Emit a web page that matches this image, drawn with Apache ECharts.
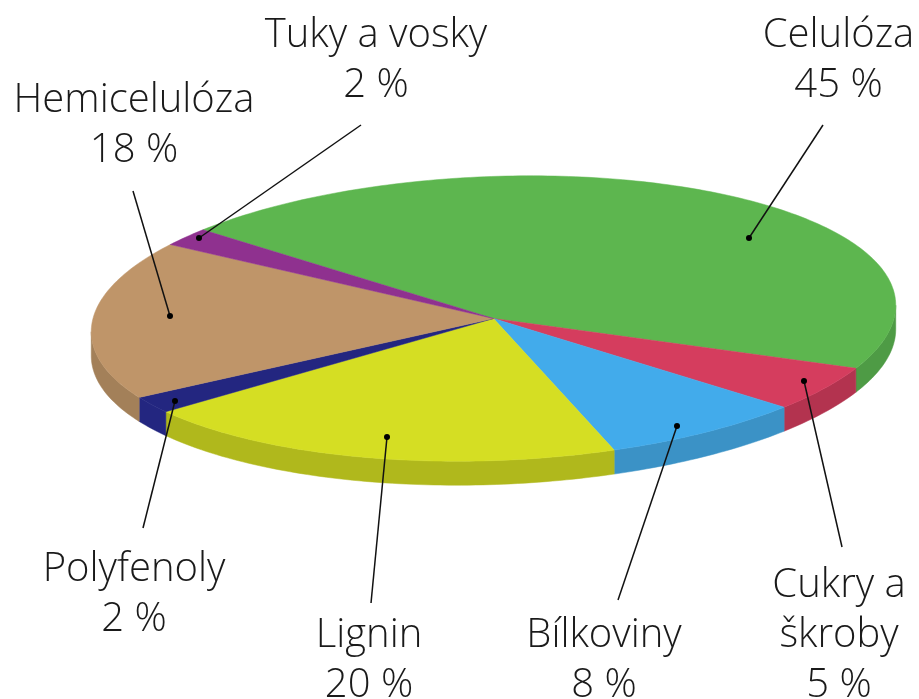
<!DOCTYPE html>
<html>
<head>
<meta charset="utf-8">
<style>html,body{margin:0;padding:0;background:#fff}#c{width:919px;height:699px}</style>
<script src="https://cdn.jsdelivr.net/npm/echarts@6/dist/echarts.min.js"></script>
</head>
<body>
<div id="c"></div>
<script>
// Data
const categories = ['Celulóza', 'Cukry a\nškroby', 'Bílkoviny', 'Lignin', 'Polyfenoly', 'Hemicelulóza', 'Tuky a vosky'];
const percents = [45, 5, 8, 20, 2, 18, 2];

// Styles
const topColors = ['#5DB64F', '#D53D5E', '#42ABEB', '#D5DE23', '#232680', '#BF9569', '#8F318F'];
const sideColors = ['#4E9B45', '#B3334F', '#3B92C6', '#B0B81C', '#232680', '#A38059', '#8F318F'];

// Layout: tilted disc geometry and annotation placement
const CX = 493.5, CY = 318.5, RX = 402.5, RY = 142, DEPTH = 24, START_DEG = 224.5, TILT_DEG = 2.15;
const labelCenterX = [838.5, 839, 604, 369, 134, 134, 376];
const labelTopY = [11, 561, 611, 611, 545, 76, 11];
const leaderFrom = [[823,125],[842,547],[618,600],[371,603],[143,528],[133,191],[361,125]];
const leaderTo = [[749,238],[804,381],[677,426],[387,437],[175,401],[170,316],[199,238]];
const LINE_H = 50, FONT = '"Open Sans", sans-serif', FONT_SIZE = 40;

const total = percents.reduce((a, b) => a + b, 0);
const spans = [];
let acc = START_DEG;
percents.forEach(v => { const s = acc; acc += v / total * 360; spans.push([s, acc]); });

const tilt = TILT_DEG * Math.PI / 180;
const tc = Math.cos(tilt), ts = Math.sin(tilt);
// screen silhouette angle where the rim's horizontal extent peaks
const edgeDeg = Math.atan2(RY * ts, RX * tc) * 180 / Math.PI;

function pt(deg, dy) {
  const r = deg * Math.PI / 180;
  const X = RX * Math.cos(r), Y = RY * Math.sin(r);
  return [CX + X * tc + Y * ts, CY - X * ts + Y * tc + (dy || 0)];
}
function arc(a, b, dy) {
  const out = [], n = Math.max(2, Math.ceil(Math.abs(b - a)));
  for (let i = 0; i <= n; i++) out.push(pt(a + (b - a) * i / n, dy));
  return out;
}
function sideRanges(a, b) {
  const out = [];
  [0, 360, 720].forEach(w => {
    const s = Math.max(a, w + edgeDeg), e = Math.min(b, w + 180 + edgeDeg);
    if (e > s) out.push([s, e]);
  });
  return out;
}
const rows = categories.map((c, i) => [i, percents[i]]);

const option = {
  animation: false,
  backgroundColor: '#fff',
  series: [
    {
      type: 'custom', coordinateSystem: 'none', silent: true, data: rows, z: 1,
      renderItem(params, api) {
        const i = api.value(0);
        const children = sideRanges(spans[i][0], spans[i][1]).map(r => ({
          type: 'polygon',
          shape: { points: arc(r[0], r[1], 0).concat(arc(r[1], r[0], DEPTH)) },
          style: { fill: sideColors[i], stroke: sideColors[i], lineWidth: 0.5 }
        }));
        return { type: 'group', children };
      }
    },
    {
      type: 'custom', coordinateSystem: 'none', silent: true, data: rows, z: 2,
      renderItem(params, api) {
        const i = api.value(0);
        return {
          type: 'polygon',
          shape: { points: [[CX, CY]].concat(arc(spans[i][0], spans[i][1], 0)) },
          style: { fill: topColors[i], stroke: topColors[i], lineWidth: 0.5 }
        };
      }
    },
    {
      type: 'custom', coordinateSystem: 'none', silent: true, data: rows, z: 3,
      renderItem(params, api) {
        const i = api.value(0);
        const from = leaderFrom[i], to = leaderTo[i];
        return {
          type: 'group',
          children: [
            { type: 'line', shape: { x1: from[0], y1: from[1], x2: to[0], y2: to[1] },
              style: { stroke: '#111', lineWidth: 1.5 } },
            { type: 'circle', shape: { cx: to[0], cy: to[1], r: 3 }, style: { fill: '#000' } },
            { type: 'text', x: labelCenterX[i], y: labelTopY[i],
              style: { text: categories[i] + '\n' + api.value(1) + ' %', align: 'center', verticalAlign: 'top',
                       font: '300 ' + FONT_SIZE + 'px ' + FONT, lineHeight: LINE_H, fill: '#1a1a1a' } }
          ]
        };
      }
    }
  ]
};
echarts.init(document.getElementById('c'), null, { renderer: 'canvas' }).setOption(option);
</script>
</body>
</html>
